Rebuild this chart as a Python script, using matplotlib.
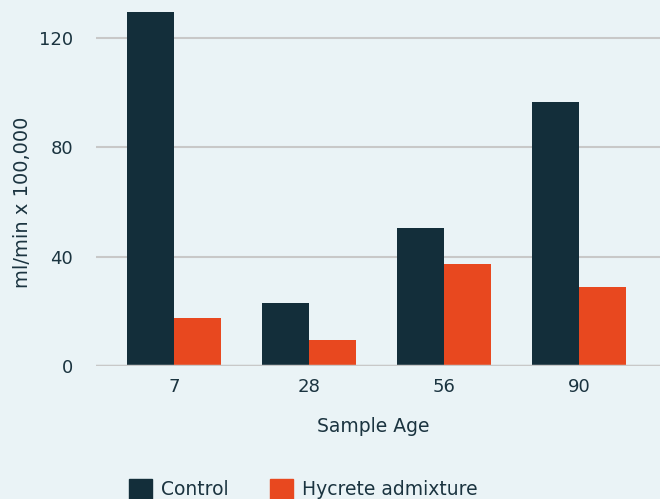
import matplotlib
matplotlib.use("Agg")
import matplotlib.pyplot as plt
import numpy as np
from matplotlib.patches import Patch

categories = ["7", "28", "56", "90"]
control = [129.5, 23.0, 50.5, 96.6]
hycrete = [17.6, 9.5, 37.3, 28.9]
series_names = ["Control", "Hycrete admixture"]
yticks = [0, 40, 80, 120]

bg = "#eaf3f6"
c_ctrl = "#132e3a"
c_hyc = "#e8481f"
txt = "#1b3440"

plt.rcParams['font.family'] = ['DejaVu Sans']

W, H = 660, 499
fig = plt.figure(figsize=(W/100, H/100), dpi=100, facecolor=bg)
ax = fig.add_axes([96/W, (H-366)/H, (660-96)/W, 366/H])
ax.set_facecolor(bg)

x = np.arange(len(categories))
w = 0.35
ax.bar(x - w/2, control, w, color=c_ctrl, zorder=3)
ax.bar(x + w/2, hycrete, w, color=c_hyc, zorder=3)

ax.set_xlim(-0.58, 3.6)
ax.set_ylim(0, 134)
ax.set_yticks(yticks)
ax.set_yticklabels([str(v) for v in yticks])
ax.set_xticks(x)
ax.set_xticklabels(categories)
ax.yaxis.grid(True, color="#c8c8c8", linewidth=1.5, zorder=0)
ax.axhline(0, color="#c8c8c8", linewidth=2.5, zorder=4)
for s in ax.spines.values():
    s.set_visible(False)
ax.tick_params(axis='both', length=0, labelsize=13, labelcolor=txt)
ax.tick_params(axis='y', pad=16.5)
ax.tick_params(axis='x', pad=9)

fig.text(23/W, 1 - 202/H, "ml/min x 100,000", rotation=90, ha='center', va='center',
         fontsize=14, color=txt)
fig.text(373/W, 1 - 427/H, "Sample Age", ha='center', va='center', fontsize=13.5, color=txt)

handles = [Patch(color=c_ctrl), Patch(color=c_hyc)]
fig.legend(handles, series_names, loc='center left', bbox_to_anchor=(112/W, 1 - 489/H),
           ncol=2, frameon=False, fontsize=13.5, labelcolor=txt,
           handlelength=1.25, handleheight=1.3, handletextpad=0.45, columnspacing=2.2)

fig.savefig("out.png", dpi=100, facecolor=bg)
